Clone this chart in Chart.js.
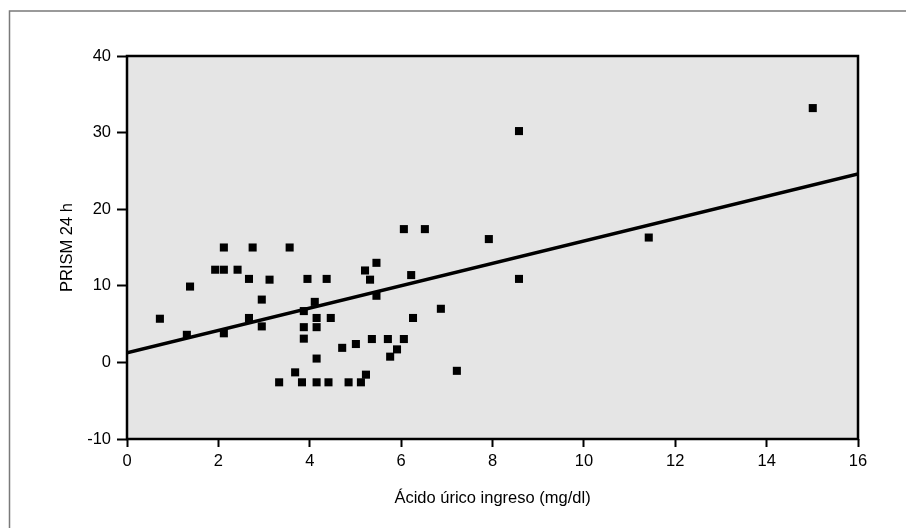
<!DOCTYPE html>
<html>
<head>
<meta charset="utf-8">
<title>PRISM 24 h vs Ácido úrico ingreso</title>
<script src="https://cdn.jsdelivr.net/npm/chart.js@4.4.1/dist/chart.umd.min.js"></script>
<style>
	html, body { margin: 0; padding: 0; background: #fff; }
	#wrap { position: relative; width: 906px; height: 528px; }
</style>
</head>
<body>
<div id="wrap"><canvas id="prismChart" width="906" height="528"></canvas></div>
<script>
// acido urico (x) / PRISM 24 h (y)
const acidoUrico = [0.72, 1.31, 1.38, 1.93, 2.12, 2.12, 2.12, 2.42, 2.67, 2.75,
	2.67, 2.95, 2.95, 3.12, 3.56, 3.95, 4.37, 4.11, 3.87, 4.15,
	4.46, 3.87, 4.15, 3.87, 4.71, 4.15, 3.68, 3.33, 3.83, 4.15,
	4.41, 4.85, 5.12, 6.06, 6.52, 7.92, 5.46, 5.21, 5.32, 6.22,
	8.58, 5.46, 6.87, 6.26, 5.36, 5.71, 6.06, 5.01, 5.91, 5.76,
	7.22, 5.23, 15.01, 8.58, 11.42];
const prism24h = [5.7, 3.6, 9.9, 12.1, 12.1, 15.0, 3.8, 12.1, 10.9, 15.0,
	5.8, 8.2, 4.7, 10.8, 15.0, 10.9, 10.9, 7.9, 6.7, 5.8,
	5.8, 4.6, 4.6, 3.1, 1.9, 0.5, -1.3, -2.6, -2.6, -2.6,
	-2.6, -2.6, -2.6, 17.4, 17.4, 16.1, 13.0, 12.0, 10.8, 11.4,
	10.9, 8.7, 7.0, 5.8, 3.05, 3.05, 3.05, 2.4, 1.7, 0.75,
	-1.1, -1.6, 33.2, 30.2, 16.3];

// regression line ends
const fitX = [0, 16];
const fitY = [1.25, 24.6];

// axis ticks
const xTicks = [0, 2, 4, 6, 8, 10, 12, 14, 16];
const yTicks = [-10, 0, 10, 20, 30, 40];

const xTitle = 'Ácido úrico ingreso (mg/dl)';
const yTitle = 'PRISM 24 h';

const FONT = '"Liberation Sans", Arial, Helvetica, sans-serif';

// grey frame + plot background + black box
const plotBox = {
	id: 'plotBox',
	beforeDraw(chart) {
		const ctx = chart.ctx;
		const a = chart.chartArea;
		ctx.save();
		ctx.strokeStyle = '#7a7a7a';
		ctx.lineWidth = 1.5;
		ctx.beginPath();
		ctx.moveTo(9.5, 528);
		ctx.lineTo(9.5, 11);
		ctx.lineTo(906, 11);
		ctx.stroke();
		ctx.fillStyle = '#e5e5e5';
		ctx.fillRect(a.left, a.top, a.right - a.left, a.bottom - a.top);
		ctx.restore();
	},
	afterDraw(chart) {
		const ctx = chart.ctx;
		const a = chart.chartArea;
		ctx.save();
		ctx.strokeStyle = '#000';
		ctx.lineWidth = 2.5;
		ctx.strokeRect(a.left, a.top, a.right - a.left, a.bottom - a.top);
		ctx.restore();
	}
};

const points = acidoUrico.map((x, i) => ({x: x, y: prism24h[i]}));
const fitLine = fitX.map((x, i) => ({x: x, y: fitY[i]}));

new Chart(document.getElementById('prismChart'), {
	type: 'scatter',
	data: {
		datasets: [
			{
				label: 'PRISM 24 h',
				data: points,
				pointStyle: 'rect',
				pointRadius: 5.7,
				pointBorderWidth: 0,
				backgroundColor: '#000',
				borderColor: '#000'
			},
			{
				type: 'line',
				label: 'ajuste',
				data: fitLine,
				borderColor: '#000',
				borderWidth: 3.5,
				pointRadius: 0,
				fill: false
			}
		]
	},
	options: {
		responsive: false,
		animation: false,
		layout: { padding: { left: 0, top: 56, right: 48, bottom: 0 } },
		plugins: {
			legend: { display: false },
			tooltip: { enabled: false }
		},
		scales: {
			x: {
				type: 'linear',
				min: 0,
				max: 16,
				afterFit: (s) => { s.height = 89; },
				afterBuildTicks: (s) => { s.ticks = xTicks.map(v => ({value: v})); },
				grid: { drawOnChartArea: false, tickLength: 8, tickWidth: 2, tickColor: '#000' },
				border: { display: false },
				ticks: { color: '#000', padding: 5, font: { family: FONT, size: 16.5 } },
				title: { display: true, text: xTitle, color: '#000', padding: { bottom: 20 }, font: { family: FONT, size: 16.5 } }
			},
			y: {
				type: 'linear',
				min: -10,
				max: 40,
				afterFit: (s) => { s.width = 127; },
				afterBuildTicks: (s) => { s.ticks = yTicks.map(v => ({value: v})); },
				grid: { drawOnChartArea: false, tickLength: 10, tickWidth: 2, tickColor: '#000' },
				border: { display: false },
				ticks: { color: '#000', padding: 6, font: { family: FONT, size: 16.5 } },
				title: { display: true, text: yTitle, color: '#000', padding: { top: 58 }, font: { family: FONT, size: 16.5 } }
			}
		}
	},
	plugins: [plotBox]
});
</script>
</body>
</html>
